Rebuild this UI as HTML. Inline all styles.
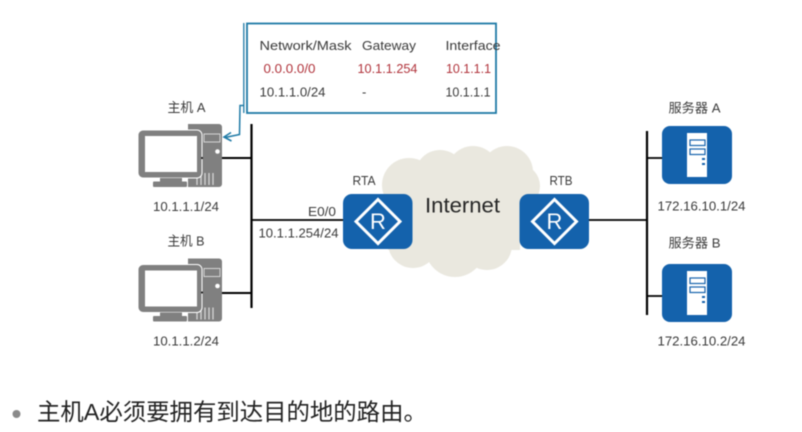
<!DOCTYPE html>
<html><head><meta charset="utf-8"><style>
html,body{margin:0;padding:0;background:#fff;width:802px;height:432px;overflow:hidden}
svg{display:block;filter:blur(.5px)}
text{font-family:"Liberation Sans","Noto Sans CJK SC",sans-serif;font-size:13px;fill:#3a3a3a}
</style></head><body>
<svg width="802" height="432" viewBox="0 0 802 432" xmlns="http://www.w3.org/2000/svg">
<defs>
<g id="host">
<path d="M188 124h31a3 3 0 0 1 3 3v57a3 3 0 0 1-3 3h-31z" fill="#808080"/>
<path d="M204 134h16v8h-16z" fill="none" stroke="#d5d5d5" stroke-width="1"/>
<circle cx="217.500" cy="151.500" r="2.300" fill="#fff"/>
<path d="M197 173v12M201 173v12M205 173v12M209 173v12M213 173v12" stroke="#d5d5d5" stroke-width="1.300"/>
<rect x="138" y="130" width="64" height="48" rx="5" fill="#808080" stroke="#fff" stroke-width="1"/>
<rect x="145" y="136" width="52" height="36" fill="#fff"/>
<rect x="160" y="178" width="22" height="4" fill="#808080"/>
<rect x="153" y="181.500" width="34" height="5.500" rx="1" fill="#808080"/>
<circle cx="202" cy="158" r="1" fill="#111"/>
</g>
<g id="router">
<rect width="69.500" height="55" rx="9" fill="#1462ac"/>
<path d="M35 5.500L57 27.500L35 49.500L13 27.500Z" fill="none" stroke="#fff" stroke-width="3"/>
<text x="35" y="35" text-anchor="middle" style="font-size:22px;fill:#fff">R</text>
</g>
<g id="server">
<rect width="70" height="58" rx="8" fill="#1462ac"/>
<rect x="25" y="7" width="20" height="44" fill="#fff"/>
<rect x="28" y="14" width="15" height="5.500" fill="#fff" stroke="#1462ac" stroke-width="1.200"/>
<rect x="28" y="23" width="15" height="5.500" fill="#fff" stroke="#1462ac" stroke-width="1.200"/>
<rect x="40" y="32" width="3" height="2" fill="#1462ac"/>
<rect x="40" y="37" width="3" height="2" fill="#1462ac"/>
</g>
</defs>

<!-- cloud -->
<g fill="#eae8df">
<rect x="395" y="175" width="125" height="75"/>
<circle cx="409" cy="185" r="27"/>
<circle cx="440" cy="175" r="25"/>
<circle cx="473" cy="172" r="26"/>
<circle cx="507" cy="172" r="26"/>
<circle cx="518" cy="186" r="22"/>
<circle cx="402" cy="235" r="20"/>
<circle cx="413" cy="243" r="25"/>
<circle cx="455" cy="247" r="30"/>
<circle cx="487" cy="245" r="25"/>
<circle cx="498" cy="232" r="20"/>
</g>
<text x="425" y="212.500" textLength="75" lengthAdjust="spacingAndGlyphs" style="font-size:21px;fill:#262626">Internet</text>

<!-- lines -->
<g stroke="#000" fill="none">
<path d="M251.500 124V308" stroke-width="2.200"/>
<path d="M222 158H251M222 293H251" stroke-width="2"/>
<path d="M251 220H344" stroke-width="1.800"/>
<path d="M589 220H648" stroke-width="1.800"/>
<path d="M647 131V315" stroke-width="2.200"/>
<path d="M647 158H662M647 296H662" stroke-width="1.800"/>
</g>

<use href="#host"/>
<use href="#host" y="134.500"/>
<use href="#router" x="343" y="194"/>
<use href="#router" x="519.500" y="194"/>
<use href="#server" x="662" y="126"/>
<use href="#server" x="662" y="264"/>

<!-- callout -->
<rect x="247" y="23.500" width="249" height="89.500" fill="#fff" stroke="#1f7aa6" stroke-width="1.800"/>
<path d="M243.800 23V113" stroke="#1f7aa6" stroke-width="1.300" fill="none"/>
<path d="M243.500 105.500H240L239.500 134.500L225 137.500" stroke="#1f7aa6" stroke-width="1.500" fill="none"/>
<path d="M231 132.500L224 137L231.500 141" stroke="#1f7aa6" stroke-width="1.600" fill="none"/>

<text x="259.500" y="50" textLength="92" lengthAdjust="spacingAndGlyphs">Network/Mask</text>
<text x="362" y="50" textLength="54" lengthAdjust="spacingAndGlyphs">Gateway</text>
<text x="445.500" y="50" textLength="55" lengthAdjust="spacingAndGlyphs">Interface</text>
<text x="263.500" y="73" textLength="52" lengthAdjust="spacingAndGlyphs" style="fill:#b0323a">0.0.0.0/0</text>
<text x="357.500" y="73" textLength="60" lengthAdjust="spacingAndGlyphs" style="fill:#b0323a">10.1.1.254</text>
<text x="446" y="73" textLength="45" lengthAdjust="spacingAndGlyphs" style="fill:#b0323a">10.1.1.1</text>
<text x="259.500" y="96.500" textLength="66" lengthAdjust="spacingAndGlyphs">10.1.1.0/24</text>
<text x="362" y="96.500">-</text>
<text x="445.500" y="96.500" textLength="45" lengthAdjust="spacingAndGlyphs">10.1.1.1</text>

<!-- labels -->
<text x="167.500" y="112" textLength="38" lengthAdjust="spacingAndGlyphs">主机 A</text>
<text x="153" y="211" textLength="66" lengthAdjust="spacingAndGlyphs">10.1.1.1/24</text>
<text x="167.500" y="245.500" textLength="37" lengthAdjust="spacingAndGlyphs">主机 B</text>
<text x="153" y="345.500" textLength="66" lengthAdjust="spacingAndGlyphs">10.1.1.2/24</text>
<text x="352.500" y="185" textLength="23" lengthAdjust="spacingAndGlyphs">RTA</text>
<text x="549.500" y="185" textLength="23" lengthAdjust="spacingAndGlyphs">RTB</text>
<text x="308" y="216" textLength="28" lengthAdjust="spacingAndGlyphs">E0/0</text>
<text x="258.500" y="237.500" textLength="80" lengthAdjust="spacingAndGlyphs">10.1.1.254/24</text>
<text x="668.500" y="112.500" textLength="52" lengthAdjust="spacingAndGlyphs">服务器 A</text>
<text x="657.500" y="210.500" textLength="88" lengthAdjust="spacingAndGlyphs">172.16.10.1/24</text>
<text x="668.500" y="247.500" textLength="52" lengthAdjust="spacingAndGlyphs">服务器 B</text>
<text x="657.500" y="345.500" textLength="88" lengthAdjust="spacingAndGlyphs">172.16.10.2/24</text>

<circle cx="16.500" cy="414" r="4" fill="#8a8a8a"/>
<text x="37" y="420" style="font-size:23.400px;fill:#222">主机A必须要拥有到达目的地的路由。</text>
</svg>
</body></html>
